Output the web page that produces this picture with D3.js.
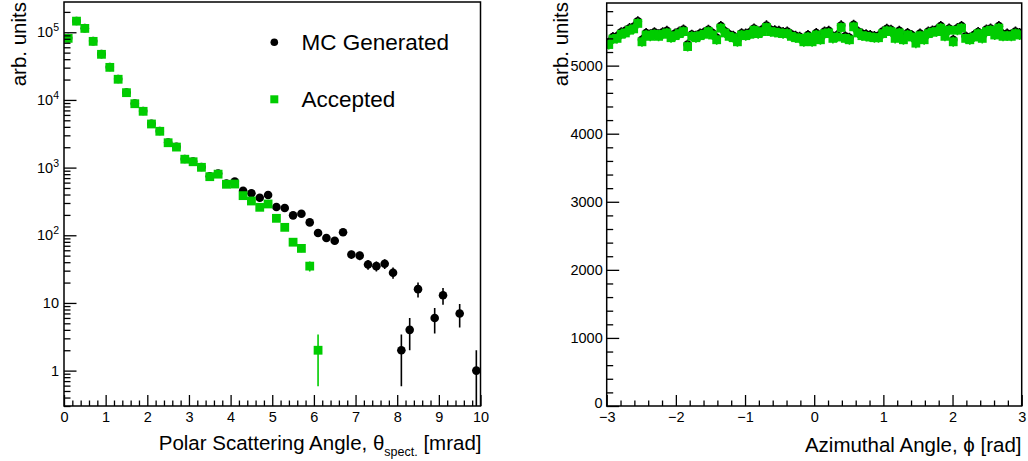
<!DOCTYPE html>
<html><head><meta charset="utf-8">
<script src="https://cdn.jsdelivr.net/npm/d3@7"></script>
<style>
body{margin:0;background:#fff;}
svg{display:block;font-family:"Liberation Sans",Arial,Helvetica,sans-serif;}
</style></head>
<body><svg id="c" width="1028" height="461"></svg>
<script>
// ---- Left panel data: polar scattering angle (bins of 0.2 mrad) ----
const thetaCenters = [0.1,0.3,0.5,0.7,0.9,1.1,1.3,1.5,1.7,1.9,2.1,2.3,2.5,2.7,2.9,3.1,3.3,3.5,3.7,3.9,
  4.1,4.3,4.5,4.7,4.9,5.1,5.3,5.5,5.7,5.9,6.1,6.3,6.5,6.7,6.9,7.1,7.3,7.5,7.7,7.9,
  8.1,8.3,8.5,8.7,8.9,9.1,9.3,9.5,9.7,9.9];
const thetaGenerated = [82000,147000,115000,74000,47600,30600,20400,12900,8870,6850,
  4450,3470,2350,2030,1340,1230,1020,745,815,580,
  620,456,417,359,394,262,253,197,208,155,
  108,91,83,111,52,50,37,35,38,28,
  2,4,16,0,6,13,0,7,0,1];
const thetaAccepted = [81300,146000,114000,73400,47200,30300,20200,12800,8790,6790,
  4410,3440,2330,2010,1330,1220,1010,734,800,567,
  572,385,321,259,290,178,131,79,64,35,
  2,0,0,0,0,0,0,0,0,0,
  0,0,0,0,0,0,0,0,0,0];
const thetaTicks = [0,1,2,3,4,5,6,7,8,9,10];
const logTickExp = [0,1,2,3,4,5];

// ---- Right panel data: azimuthal angle (100 bins from -3 to 3) ----
const phiGenerated = [5340,5420,5430,5490,5510,5550,5570,5650,5380,5480,
  5460,5490,5460,5490,5510,5440,5470,5500,5530,5310,
  5455,5440,5470,5490,5525,5480,5410,5580,5505,5460,
  5440,5380,5475,5470,5490,5545,5500,5530,5590,5525,
  5520,5510,5495,5500,5460,5440,5425,5380,5450,5380,
  5480,5405,5500,5510,5430,5445,5590,5430,5410,5600,
  5505,5470,5460,5450,5435,5440,5500,5540,5525,5430,
  5510,5405,5480,5450,5360,5470,5410,5500,5515,5530,
  5580,5460,5545,5380,5550,5580,5430,5410,5450,5495,
  5430,5530,5545,5480,5580,5460,5470,5460,5500,5480];
const phiAccepted = [5310,5390,5400,5460,5480,5520,5540,5620,5350,5450,
  5430,5460,5430,5460,5480,5410,5440,5470,5500,5280,
  5430,5410,5440,5460,5500,5450,5380,5550,5480,5430,
  5410,5350,5450,5440,5460,5520,5470,5500,5560,5500,
  5490,5480,5470,5470,5430,5410,5400,5350,5420,5350,
  5450,5380,5470,5480,5400,5420,5560,5400,5380,5570,
  5480,5440,5430,5420,5410,5410,5470,5510,5500,5400,
  5480,5380,5450,5420,5330,5440,5380,5470,5490,5500,
  5550,5430,5520,5350,5520,5550,5400,5380,5420,5470,
  5400,5500,5520,5450,5550,5430,5440,5430,5470,5450];
const phiTicks = [-3,-2,-1,0,1,2,3];
const countTicks = [0,1000,2000,3000,4000,5000];

const legendLabels = ["MC Generated","Accepted"];
const GREEN = "#00cc00";

const svg = d3.select("#c");
svg.append("rect").attr("width",1028).attr("height",461).attr("fill","#fff");

// ================= LEFT PANEL =================
const xL = d3.scaleLinear().domain([0,10]).range([64,480.5]);
const yL = d3.scaleLog().domain([0.3,2.8e5]).range([406,2]);
const defs = svg.append("defs");
defs.append("clipPath").attr("id","clipL").append("rect")
  .attr("x",64).attr("y",2).attr("width",480.5-64).attr("height",404);
defs.append("clipPath").attr("id","clipR").append("rect")
  .attr("x",606.7).attr("y",3).attr("width",1021.7-606.7).attr("height",403);

function drawPoints(g, xs, vals, xS, yS, kind, color, minPositive){
  const data = xs.map((x,i)=>({x, v:vals[i]})).filter(d=>d.v>0);
  const lo = d=> Math.max(d.v - Math.sqrt(d.v), minPositive);
  g.selectAll(null).data(data).enter().append("line")
    .attr("x1",d=>xS(d.x)).attr("x2",d=>xS(d.x))
    .attr("y1",d=>yS(d.v+Math.sqrt(d.v))).attr("y2",d=>yS(lo(d)))
    .attr("stroke",color).attr("stroke-width",1.6);
  if(kind==="circle"){
    g.selectAll(null).data(data).enter().append("circle")
      .attr("cx",d=>xS(d.x)).attr("cy",d=>yS(d.v)).attr("r",4.3).attr("fill",color);
  } else {
    g.selectAll(null).data(data).enter().append("rect")
      .attr("x",d=>xS(d.x)-4.4).attr("y",d=>yS(d.v)-4.4)
      .attr("width",8.8).attr("height",8.8).attr("fill",color);
  }
}

const gL = svg.append("g").attr("clip-path","url(#clipL)");
drawPoints(gL, thetaCenters, thetaGenerated, xL, yL, "circle", "#000", 0.01);
drawPoints(gL, thetaCenters, thetaAccepted, xL, yL, "square", GREEN, 0.01);

function styleAxis(g){
  g.select(".domain").remove();
  g.selectAll(".tick line").attr("stroke","#000").attr("stroke-width",1.3);
  g.selectAll("text").attr("font-size","14.5px").attr("fill","#000")
    .attr("font-family","'Liberation Sans',Arial,sans-serif");
}
const minorTheta = d3.range(0,50).map(i=>i*0.2).filter(v=>Math.abs(v-Math.round(v))>1e-6);
svg.append("g").attr("transform","translate(0,406)")
  .call(d3.axisBottom(xL).tickValues(minorTheta).tickSize(-5.5).tickFormat(""))
  .call(styleAxis);
svg.append("g").attr("transform","translate(0,406)")
  .call(d3.axisBottom(xL).tickValues(thetaTicks).tickSize(-11).tickPadding(5.5).tickFormat(d3.format("d")))
  .call(styleAxis);

const minorLog = [];
for(let e=-1;e<=5;e++) for(let m=2;m<=9;m++){const v=m*Math.pow(10,e); if(v>=0.3&&v<=2.8e5) minorLog.push(v);}
svg.append("g").attr("transform","translate(64,0)")
  .call(d3.axisLeft(yL).tickValues(minorLog).tickSize(-6.5).tickFormat(""))
  .call(styleAxis);
svg.append("g").attr("transform","translate(64,0)")
  .call(d3.axisLeft(yL).tickValues(logTickExp.map(e=>Math.pow(10,e))).tickSize(-12.5).tickFormat(""))
  .call(styleAxis);
const lbl = svg.append("g").attr("font-size","14.5px");
logTickExp.forEach(e=>{
  const y = yL(Math.pow(10,e));
  const t = lbl.append("text").attr("x",59).attr("y",y+5).attr("text-anchor","end");
  if(e===0) t.text("1");
  else if(e===1) t.text("10");
  else { t.append("tspan").text("10"); t.append("tspan").attr("font-size","10.5px").attr("dy",-6).text(String(e)); }
});

svg.append("rect").attr("x",64).attr("y",2).attr("width",480.5-64).attr("height",404)
  .attr("fill","none").attr("stroke","#000").attr("stroke-width",1.5);

svg.append("text").attr("transform","translate(25.5,2) rotate(-90)")
  .attr("text-anchor","end").attr("font-size","20.5px").text("arb. units");
const tL = svg.append("text").attr("x",481.5).attr("y",450).attr("text-anchor","end").attr("font-size","20.5px");
tL.append("tspan").text("Polar Scattering Angle, θ");
tL.append("tspan").attr("font-size","12.5px").attr("dy",6).text("spect.");
tL.append("tspan").attr("dy",-6).text(" [mrad]");

// legend
const lg = svg.append("g");
lg.append("circle").attr("cx",274.3).attr("cy",42.3).attr("r",3.8).attr("fill","#000");
lg.append("rect").attr("x",270.3).attr("y",95.3).attr("width",8).attr("height",8).attr("fill",GREEN);
lg.selectAll(null).data(legendLabels).enter().append("text")
  .attr("x",301.5).attr("y",(d,i)=>i===0?49.5:106.5).attr("font-size","22.5px").text(d=>d);

// ================= RIGHT PANEL =================
const xR = d3.scaleLinear().domain([-3,3]).range([606.7,1021.7]);
const yR = d3.scaleLinear().domain([0,5920]).range([406,3]);
const phiCenters = d3.range(100).map(i=> -3 + 0.06*(i+0.5));

const gR = svg.append("g").attr("clip-path","url(#clipR)");
drawPoints(gR, phiCenters, phiGenerated, xR, yR, "circle", "#000", 0);
drawPoints(gR, phiCenters, phiAccepted, xR, yR, "square", GREEN, 0);

const minorPhi = d3.range(0,31).map(i=>-3+i*0.2).filter(v=>Math.abs(v-Math.round(v))>1e-6);
svg.append("g").attr("transform","translate(0,406)")
  .call(d3.axisBottom(xR).tickValues(minorPhi).tickSize(-5.5).tickFormat(""))
  .call(styleAxis);
svg.append("g").attr("transform","translate(0,406)")
  .call(d3.axisBottom(xR).tickValues(phiTicks).tickSize(-11).tickPadding(6).tickFormat(d3.format("d")))
  .call(styleAxis);
const minorCnt = d3.range(0,30).map(i=>i*200).filter(v=>v%1000!==0 && v<=5920);
svg.append("g").attr("transform","translate(606.7,0)")
  .call(d3.axisLeft(yR).tickValues(minorCnt).tickSize(-6.5).tickFormat(""))
  .call(styleAxis);
const yAxR = svg.append("g").attr("transform","translate(606.7,0)")
  .call(d3.axisLeft(yR).tickValues(countTicks).tickSize(-12.5).tickPadding(4).tickFormat(d3.format("d")))
  .call(styleAxis);
// lift the "0" label a little so it only touches the "−3" label below it
yAxR.selectAll(".tick").filter(d=>d===0).select("text").attr("dy","0.12em");

svg.append("rect").attr("x",606.7).attr("y",3).attr("width",1021.7-606.7).attr("height",403)
  .attr("fill","none").attr("stroke","#000").attr("stroke-width",1.5);

svg.append("text").attr("transform","translate(568,2) rotate(-90)")
  .attr("text-anchor","end").attr("font-size","20.5px").text("arb. units");
svg.append("text").attr("x",1021.5).attr("y",452).attr("text-anchor","end").attr("font-size","20.5px")
  .text("Azimuthal Angle, ϕ [rad]");
</script></body></html>
